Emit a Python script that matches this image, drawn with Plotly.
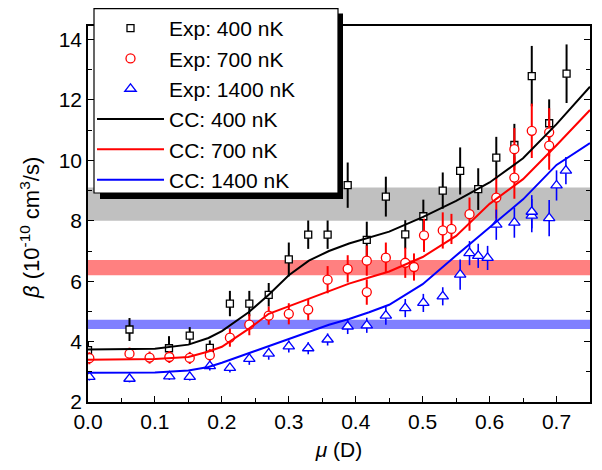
import plotly.graph_objects as go

# ---------------- data ----------------
exp400_x = [0.0, 0.062, 0.121, 0.152, 0.182, 0.212, 0.241, 0.270, 0.300, 0.329, 0.358, 0.388, 0.4165,
            0.445, 0.474, 0.501, 0.530, 0.556, 0.583, 0.610, 0.637, 0.663, 0.689, 0.715]
exp400_y = [3.72, 4.40, 3.78, 4.20, 3.79, 5.26, 5.26, 5.55, 6.72, 7.54, 7.54, 9.18, 7.37,
            8.80, 7.55, 8.15, 9.00, 9.65, 9.05, 10.09, 10.51, 12.79, 11.23, 12.87]
exp400_e = [0.30, 0.38, 0.40, 0.28, 0.25, 0.42, 0.42, 0.39, 0.56, 0.47, 0.47, 0.75, 0.60,
            0.66, 0.47, 0.55, 0.60, 0.78, 0.69, 0.69, 0.70, 1.00, 0.79, 0.97]

exp700_x = [0.002, 0.062, 0.092, 0.1215, 0.152, 0.182, 0.212, 0.241, 0.270, 0.300, 0.329, 0.358, 0.388,
            0.4165, 0.4165, 0.445, 0.474, 0.487, 0.502, 0.530, 0.543, 0.570, 0.610, 0.637, 0.637,
            0.663, 0.689, 0.689]
exp700_y = [3.45, 3.60, 3.47, 3.49, 3.46, 3.55, 4.13, 4.56, 4.86, 4.92, 5.06, 6.05, 6.41,
            6.68, 5.64, 6.78, 6.61, 6.47, 7.52, 7.68, 7.73, 8.22, 8.77, 9.43, 10.37,
            10.98, 10.49, 10.93]
exp700_e = [0.20, 0.20, 0.20, 0.20, 0.20, 0.20, 0.30, 0.35, 0.30, 0.35, 0.35, 0.45, 0.45,
            0.50, 0.42, 0.50, 0.50, 0.45, 0.55, 0.60, 0.50, 0.55, 0.70, 0.70, 0.70,
            0.90, 0.80, 0.80]

exp1400_x = [0.002, 0.062, 0.1215, 0.152, 0.182, 0.212, 0.241, 0.270, 0.300, 0.329, 0.358, 0.388,
             0.4165, 0.445, 0.474, 0.501, 0.530, 0.556, 0.570, 0.583, 0.597, 0.610, 0.637, 0.663,
             0.663, 0.689, 0.700, 0.714]
exp1400_y = [2.83, 2.77, 2.85, 2.83, 3.19, 3.13, 3.43, 3.60, 3.84, 3.78, 4.07, 4.50,
             4.54, 4.86, 5.11, 5.28, 5.50, 6.22, 6.93, 6.84, 6.77, 7.87, 7.94, 8.17,
             8.30, 8.09, 9.17, 9.66]
exp1400_e = [0.12, 0.12, 0.12, 0.12, 0.15, 0.15, 0.20, 0.20, 0.20, 0.20, 0.20, 0.25,
             0.25, 0.30, 0.30, 0.30, 0.30, 0.50, 0.40, 0.40, 0.40, 0.50, 0.50, 0.55,
             0.55, 0.60, 0.50, 0.45]

cc_x = [0.0, 0.05, 0.10, 0.15, 0.18, 0.20, 0.24, 0.27, 0.30, 0.33, 0.36, 0.39, 0.42, 0.45,
        0.50, 0.55, 0.60, 0.65, 0.70, 0.75]
cc400_y = [3.74, 3.74, 3.76, 3.90, 4.12, 4.35, 4.97, 5.55, 6.20, 6.68, 7.00, 7.25, 7.45, 7.64,
           8.12, 8.66, 9.27, 10.07, 11.20, 12.44]
cc700_y = [3.40, 3.40, 3.42, 3.49, 3.67, 3.83, 4.42, 4.92, 5.17, 5.42, 5.68, 5.92, 6.12, 6.32,
           6.80, 7.50, 8.56, 9.38, 10.50, 11.67]
cc1400_y = [2.97, 2.97, 2.98, 3.04, 3.16, 3.30, 3.62, 3.84, 4.10, 4.33, 4.56, 4.75, 4.97, 5.22,
            5.90, 6.85, 7.77, 8.71, 9.85, 10.57]

# horizontal bands (y ranges)
band_gray = [8.0, 9.1]
band_red = [6.2, 6.7]
band_blue = [4.42, 4.72]

# ---------------- figure ----------------
FONT = "Arial, Liberation Sans, Helvetica, sans-serif"
# page body has an 8px margin, so the figure is 594x462 placed at (8, 8)
W, H = 594, 462
ML, MR, MT, MB = 80, 12, 18, 68
PW, PH = W - ML - MR, H - MT - MB

fig = go.Figure()

def exp_trace(x, y, e, name, color, symbol, size, ew):
    return go.Scatter(
        x=x, y=y, mode="markers", name=name,
        marker=dict(symbol=symbol, size=size, color="white",
                    line=dict(color=color, width=1.3)),
        error_y=dict(type="data", array=e, visible=True, color=color,
                     thickness=ew, width=0),
    )

fig.add_trace(exp_trace(exp400_x, exp400_y, exp400_e, "Exp: 400 nK", "black", "square", 7, 2))
fig.add_trace(exp_trace(exp700_x, exp700_y, exp700_e, "Exp: 700 nK", "red", "circle", 9, 2))
fig.add_trace(exp_trace(exp1400_x, exp1400_y, exp1400_e, "Exp: 1400 nK", "blue", "triangle-up", 10, 1.6))

fig.add_trace(go.Scatter(x=cc_x, y=cc400_y, mode="lines", name="CC: 400 nK",
                         line=dict(color="black", width=2)))
fig.add_trace(go.Scatter(x=cc_x, y=cc700_y, mode="lines", name="CC: 700 nK",
                         line=dict(color="red", width=2)))
fig.add_trace(go.Scatter(x=cc_x, y=cc1400_y, mode="lines", name="CC: 1400 nK",
                         line=dict(color="blue", width=2)))

for (y0, y1), col in [(band_gray, "#c0c0c0"), (band_red, "#ff8080"), (band_blue, "#8080ff")]:
    fig.add_shape(type="rect", xref="paper", yref="y", x0=0, x1=1, y0=y0, y1=y1,
                  fillcolor=col, line=dict(width=0), layer="below")

# pixel (figure coords) -> paper coords
def px2paper_x(px):
    return (px - ML) / PW

def px2paper_y(py):
    return (MT + PH - py) / PH

# legend frame (white box with black border) and its drop shadow
LEG_L, LEG_T, LEG_R, LEG_B = 86, 0.6, 330, 185
fig.add_shape(type="rect", xref="paper", yref="paper",
              x0=px2paper_x(LEG_L + 6), x1=px2paper_x(LEG_R + 5),
              y0=px2paper_y(LEG_B + 6), y1=px2paper_y(LEG_T + 5),
              fillcolor="black", line=dict(width=0), layer="above")
fig.add_shape(type="rect", xref="paper", yref="paper",
              x0=px2paper_x(LEG_L), x1=px2paper_x(LEG_R),
              y0=px2paper_y(LEG_B), y1=px2paper_y(LEG_T),
              fillcolor="white", line=dict(color="black", width=1.2), layer="above")

# y-axis title as rotated annotation
fig.add_annotation(text="<i>β</i> (10<sup>-10</sup> cm<sup>3</sup>/s)",
                   xref="paper", yref="paper", x=px2paper_x(22), y=px2paper_y(220),
                   xanchor="center", yanchor="middle", textangle=-90, showarrow=False,
                   font=dict(family=FONT, size=22, color="black"))

axis_common = dict(
    showgrid=False, zeroline=False, showline=True, linecolor="black", linewidth=1.5,
    ticks="inside", ticklen=6, tickwidth=1.2, tickcolor="black",
    tickfont=dict(family=FONT, size=21, color="black"),
)

fig.update_layout(
    width=W, height=H,
    margin=dict(l=ML, r=MR, t=MT, b=MB, autoexpand=False),
    plot_bgcolor="white", paper_bgcolor="white",
    font=dict(family=FONT, color="black"),
    xaxis=dict(range=[0, 0.75], dtick=0.1, tick0=0, tickformat=".1f", mirror=True,
               minor=dict(dtick=0.05, ticks="inside", ticklen=4, tickcolor="black"),
               title=dict(text="<i>μ</i> (D)", font=dict(family=FONT, size=21), standoff=10),
               **axis_common),
    yaxis=dict(range=[2, 14.45], dtick=2, tick0=2, mirror="ticks",
               minor=dict(dtick=1, ticks="inside", ticklen=4, tickcolor="black"),
               **axis_common),
    legend=dict(xref="container", yref="container",
                x=(LEG_L - 2) / W, y=1.0 + 6 / H, xanchor="left", yanchor="top",
                bgcolor="rgba(0,0,0,0)", borderwidth=0,
                font=dict(family=FONT, size=21, color="black"),
                itemwidth=67, tracegroupgap=0),
    showlegend=True,
)

fig.write_html("out.html")
